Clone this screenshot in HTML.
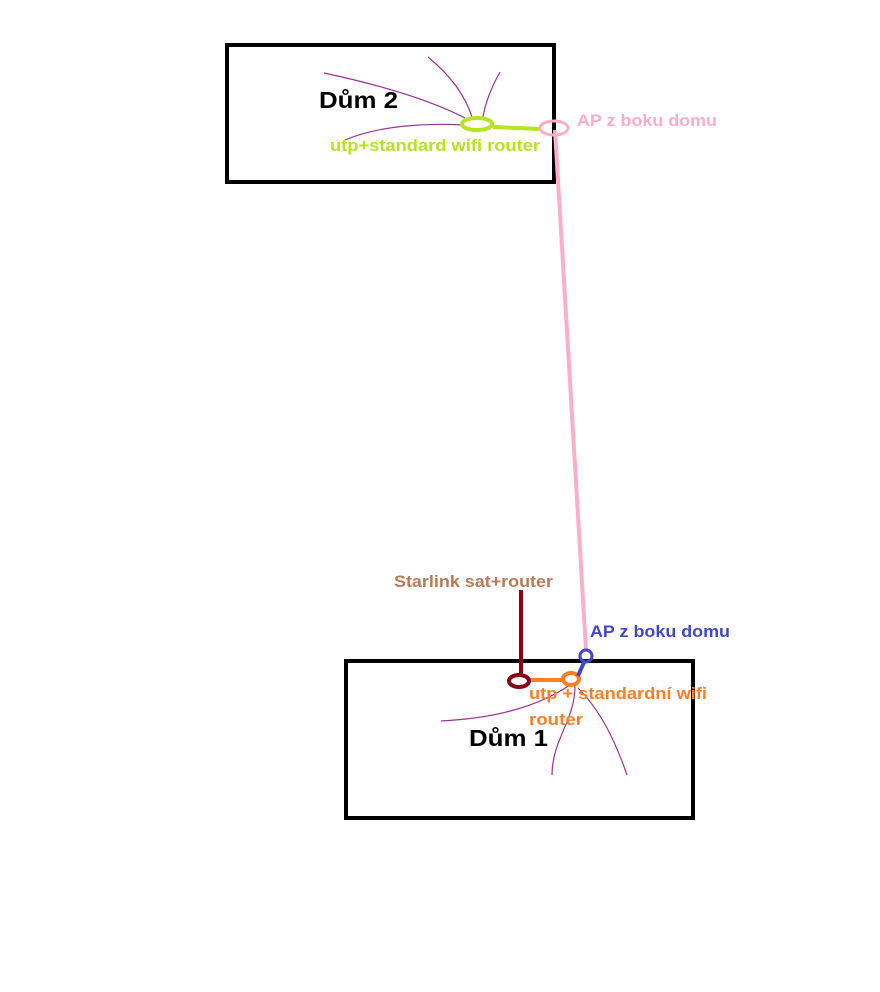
<!DOCTYPE html>
<html><head><meta charset="utf-8"><style>
html,body{margin:0;padding:0;background:#fff;width:880px;height:992px;overflow:hidden}
svg text{font-family:"Liberation Sans",sans-serif;font-weight:bold}
</style></head><body>
<svg width="880" height="992" xmlns="http://www.w3.org/2000/svg">
<rect x="227" y="45" width="327" height="137" fill="none" stroke="#000" stroke-width="4"/>
<rect x="346" y="661" width="347" height="157" fill="none" stroke="#000" stroke-width="4"/>
<g fill="none" stroke="#993399" stroke-width="1.2">
<path d="M324,73 C380,85 430,100 465,118"/>
<path d="M428,57 C450,75 465,95 472,117"/>
<path d="M500,72 C490,90 485,105 483,117"/>
<path d="M345,140 C380,125 430,123 462,125"/>
<path d="M441,721 C500,718 540,705 570,685"/>
<path d="M575,686 C575,720 552,740 552,775"/>
<path d="M578,688 C600,710 615,740 627,775"/>
</g>
<line x1="555" y1="130" x2="586" y2="650" stroke="#ffaec9" stroke-width="4"/>
<line x1="493" y1="127" x2="540" y2="129" stroke="#b5e61d" stroke-width="4"/>
<ellipse cx="477" cy="124" rx="15" ry="6" fill="none" stroke="#b5e61d" stroke-width="4"/>
<ellipse cx="554" cy="128" rx="14" ry="7" fill="none" stroke="#ffaec9" stroke-width="3"/>
<line x1="521" y1="590" x2="521" y2="676" stroke="#880015" stroke-width="4"/>
<line x1="530" y1="680" x2="563" y2="680" stroke="#ff7f27" stroke-width="4"/>
<ellipse cx="519" cy="681" rx="10" ry="6" fill="none" stroke="#880015" stroke-width="4"/>
<ellipse cx="571" cy="679" rx="8" ry="6" fill="none" stroke="#ff7f27" stroke-width="4"/>
<line x1="585" y1="660" x2="578" y2="676" stroke="#3f48cc" stroke-width="4"/>
<circle cx="586" cy="656" r="6" fill="none" stroke="#3f48cc" stroke-width="3"/>
<text x="319" y="108" font-size="23" fill="#000" textLength="79" lengthAdjust="spacingAndGlyphs">Dům 2</text>
<text x="330" y="151" font-size="17" fill="#b5e61d" textLength="210" lengthAdjust="spacingAndGlyphs">utp+standard wifi router</text>
<text x="577" y="126" font-size="17" fill="#ffaec9" textLength="140" lengthAdjust="spacingAndGlyphs">AP z boku domu</text>
<text x="394" y="587" font-size="17" fill="#b97a57" textLength="159" lengthAdjust="spacingAndGlyphs">Starlink sat+router</text>
<text x="590" y="637" font-size="17" fill="#3f48cc" textLength="140" lengthAdjust="spacingAndGlyphs">AP z boku domu</text>
<text x="529" y="699" font-size="17" fill="#ff7f27" textLength="178" lengthAdjust="spacingAndGlyphs">utp + standardní wifi</text>
<text x="529" y="725" font-size="17" fill="#ff7f27" textLength="54" lengthAdjust="spacingAndGlyphs">router</text>
<text x="469" y="746" font-size="23" fill="#000" textLength="79" lengthAdjust="spacingAndGlyphs">Dům 1</text>
</svg>
</body></html>
